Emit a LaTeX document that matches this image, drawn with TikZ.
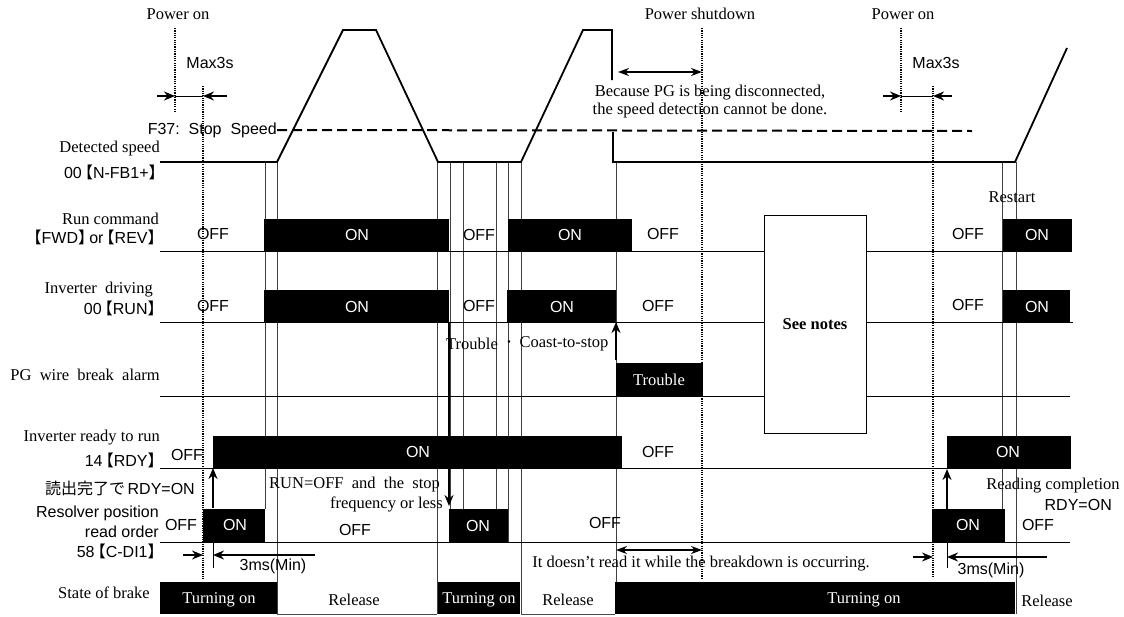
\documentclass[tikz,border=0pt]{standalone}
\usepackage{fontspec}
\setmainfont{Liberation Serif}
\setsansfont{Liberation Sans}
\newfontfamily\cjk{Noto Sans CJK JP}
\usetikzlibrary{arrows.meta}
\newcommand\LB{\kern-0.3em\smash{\cjk【}}
\newcommand\RB{\smash{\cjk】}\kern-0.3em}
\tikzset{
  lbl/.style={font=\fontsize{16.5}{18}\selectfont, inner sep=0pt},
  sns/.style={font=\sffamily\fontsize{16}{18}\selectfont, inner sep=0pt},
  wsns/.style={sns, text=white},
  wlbl/.style={lbl, text=white},
  base/.style={line width=1pt},
  spd/.style={line width=1.8pt, line join=miter},
  trn/.style={line width=1pt, black!75},
  pdot/.style={line width=2.2pt, dash pattern=on 1.2pt off 1.1pt},
  blk/.style={fill=black},
  thk/.style={line width=2.2pt, -{Stealth[length=11pt,width=9pt]}},
  dbl/.style={line width=1.8pt, {Stealth[length=11pt,width=8pt]}-{Stealth[length=11pt,width=8pt]}},
}
\begin{document}
\begin{tikzpicture}[x=1pt,y=-1pt]
\useasboundingbox (0,0) rectangle (1124,616);

% ---- transition thin lines ----
\foreach \x/\a/\b in {265/162/509, 277/162/614, 437/162/614, 450/162/542, 463/162/509,
  496/162/509, 508/162/542, 521/162/614, 616/162/614, 1002/162/542, 1016/162/614}
  \draw[trn] (\x,\a) -- (\x,\b);

% ---- power on / shutdown ----
\node[lbl] (pon1) at (178,14) {Power on};
\node[lbl] (psd) at (700,14) {Power shutdown};
\node[lbl] (pon2) at (903,14) {Power on};
\coordinate (d1t) at (175,28); \coordinate (d1b) at (175,112);
\coordinate (d2t) at (203,86); \coordinate (d2b) at (203,580);
\coordinate (d3t) at (702,28); \coordinate (d3b) at (702,578);
\coordinate (d4t) at (901,28); \coordinate (d4b) at (901,112);
\coordinate (d5t) at (933,86); \coordinate (d5b) at (933,578);
\foreach \p in {d1,d2,d3,d4,d5} \draw[pdot] (\p t) -- (\p b);

\node[sns] (max1) at (210,63) {Max3s};
\node[sns] (max2) at (936,63) {Max3s};
\draw[line width=0.9pt] (175,96) -- (203,96);
\draw[thk] (157,96) -- (175,96);
\draw[thk] (227,96) -- (203,96);
\draw[line width=0.9pt] (901,96) -- (933,96);
\draw[thk] (883,96) -- (901,96);
\draw[thk] (952,96) -- (933,96);

% ---- speed ----
\node[sns, anchor=east] (f37) at (277,130) {F37:\ \ Stop\ \ Speed};
\draw[line width=2pt, dash pattern=on 10pt off 5pt] (f37.east) -- (972,131);
\node[lbl, anchor=east] (ds1) at (160,149) {Detected speed};
\node[sns, anchor=east] (ds2) at (160,173) {00\LB N-FB1+\RB};
\draw[spd] (160,162) -- (277,162) -- (343,30) -- (376,30) -- (438,162) -- (521,162)
  -- (583,30) -- (612,30) -- (612,80);
\draw[spd] (613,132) -- (613,162) -- (1015,162) -- (1067,48);
\draw[dbl] (618,72) -- (702,72);
\node[lbl, align=center] (pgtxt) at (710,102) {Because PG is being disconnected,\\the speed detection cannot be done.};
\node[lbl] (rst) at (1012,197) {Restart};

% ---- run command ----
\node[lbl, anchor=east] (rc1) at (159,219) {Run command};
\node[sns, anchor=east] (rc2) at (159,238) {\LB FWD\RB or\LB REV\RB};
\fill[blk] (264,219) rectangle (449,251);
\fill[blk] (508,219) rectangle (632,251);
\fill[blk] (1003,219) rectangle (1072,251);
\draw[base] (160,251) -- (1072,251);
\node[sns] (rcoff1) at (213,234) {OFF};
\node[wsns] (rcon1) at (357,235) {ON};
\node[sns] (rcoff2) at (479,235) {OFF};
\node[wsns] (rcon2) at (570,235) {ON};
\node[sns] (rcoff3) at (663,234) {OFF};
\node[sns] (rcoff4) at (968,234) {OFF};
\node[wsns] (rcon3) at (1037,235) {ON};

% ---- inverter driving ----
\node[lbl, anchor=east] (id1) at (153,290) {Inverter\ \ driving};
\node[sns, anchor=east] (id2) at (159,309) {00\LB RUN\RB};
\fill[blk] (264,290) rectangle (449,322);
\fill[blk] (507,290) rectangle (616,322);
\fill[blk] (1003,290) rectangle (1070,322);
\draw[base] (160,322) -- (1073,322);
\node[sns] (idoff1) at (213,306) {OFF};
\node[wsns] (idon1) at (357,307) {ON};
\node[sns] (idoff2) at (479,306) {OFF};
\node[wsns] (idon2) at (562,307) {ON};
\node[sns] (idoff3) at (658,306) {OFF};
\node[sns] (idoff4) at (968,305) {OFF};
\node[wsns] (idon3) at (1037,307) {ON};

% ---- PG wire break ----
\node[lbl, anchor=east] (pg) at (160,375) {PG\ \ wire\ \ break\ \ alarm};
\fill[blk] (616,363) rectangle (703,396);
\node[wlbl] (trb) at (659,380) {Trouble};
\draw[base] (160,396) -- (1070,396);
\node[lbl] (trb1) at (472,344) {Trouble};
\node[font=\cjk\fontsize{12}{12}\selectfont, inner sep=0pt] (trdot) at (509,344) {・};
\node[lbl] (trb2) at (564,344) {Coast-to-stop};
\draw[thk] (616,360) -- (616,322);
\draw[thk] (449,322) -- (449,506);

% ---- see notes ----
\draw[base, fill=white] (764,215) rectangle (866,433);
\node[lbl, font=\bfseries\fontsize{16.5}{18}\selectfont] (see) at (815,324) {See notes};

% ---- ready ----
\node[lbl, anchor=east] (rd1) at (160,438) {Inverter ready to run};
\node[sns, anchor=east] (rd2) at (159,461) {14\LB RDY\RB};
\fill[blk] (213,436) rectangle (622,468);
\fill[blk] (947,436) rectangle (1071,468);
\draw[base] (160,468) -- (1071,468);
\node[sns] (rdoff1) at (187,455) {OFF};
\node[wsns] (rdon1) at (418,452) {ON};
\node[sns] (rdoff2) at (658,452) {OFF};
\node[wsns] (rdon2) at (1008,452) {ON};
\node[inner sep=0pt, anchor=east] (jp) at (195,488) {{\cjk\fontsize{16}{18}\selectfont 読出完了で} {\sffamily\fontsize{16}{18}\selectfont RDY=ON}};
\draw[thk, line width=2.6pt] (213,508) -- (213,468);
\draw[thk, line width=2.6pt] (947,509) -- (947,469);
\node[lbl] (rc) at (1053,486) {Reading completion};
\node[sns, anchor=east] (rc3) at (1112,505) {RDY=ON};
\node[lbl, anchor=west] (runoff1) at (269,485) {RUN=OFF\ \ and\ \ the\ \ stop};
\node[lbl, anchor=east] (runoff2) at (443,504) {frequency or less};

% ---- resolver ----
\node[sns, anchor=east] (rs1) at (159,513) {Resolver position};
\node[sns, anchor=east] (rs2) at (159,532) {read order};
\node[sns, anchor=east] (rs3) at (159,552) {58\LB C-DI1\RB};
\fill[blk] (203,509) rectangle (265,542);
\fill[blk] (449,509) rectangle (508,542);
\fill[blk] (932,509) rectangle (1005,542);
\draw[base] (160,542) -- (1070,542);
\node[sns] (rsoff1) at (181,525) {OFF};
\node[wsns] (rson1) at (235,525) {ON};
\node[sns] (rsoff2) at (355,530) {OFF};
\node[wsns] (rson2) at (478,526) {ON};
\node[sns] (rsoff3) at (605,523) {OFF};
\node[wsns] (rson3) at (968,525) {ON};
\node[sns] (rsoff4) at (1038,525) {OFF};

% ---- 3ms ----
\draw[line width=0.9pt] (213,542) -- (213,568);
\draw[thk, line width=1.6pt] (183,555) -- (203,555);
\draw[thk] (315,555) -- (213,555);
\node[sns] (ms1) at (273,566) {3ms(Min)};
\draw[line width=0.9pt] (947,542) -- (947,568);
\draw[thk, line width=1.6pt] (913,557) -- (933,557);
\draw[thk] (1047,557) -- (947,557);
\node[sns] (ms2) at (991,570) {3ms(Min)};

\draw[dbl] (616,550) -- (702,550);
\node[lbl] (brk) at (701,564) {It doesn\char"0027 t read it while the breakdown is occurring.};

% ---- brake ----
\node[lbl, anchor=east] (sb) at (150,593) {State of brake};
\fill[blk] (160,582) rectangle (277,614);
\fill[blk] (438,582) rectangle (520,614);
\fill[blk] (615,582) rectangle (1015,614);
\draw[line width=0.8pt, black!70] (277,614) -- (437,614) (521,614) -- (615,614);
\node[wlbl] (bt1) at (219,600) {Turning on};
\node[lbl] (br1) at (354,600) {Release};
\node[wlbl] (bt2) at (479,600) {Turning on};
\node[lbl] (br2) at (568,600) {Release};
\node[wlbl] (bt3) at (864,600) {Turning on};
\node[lbl] (br3) at (1047,601) {Release};
\end{tikzpicture}
\end{document}
